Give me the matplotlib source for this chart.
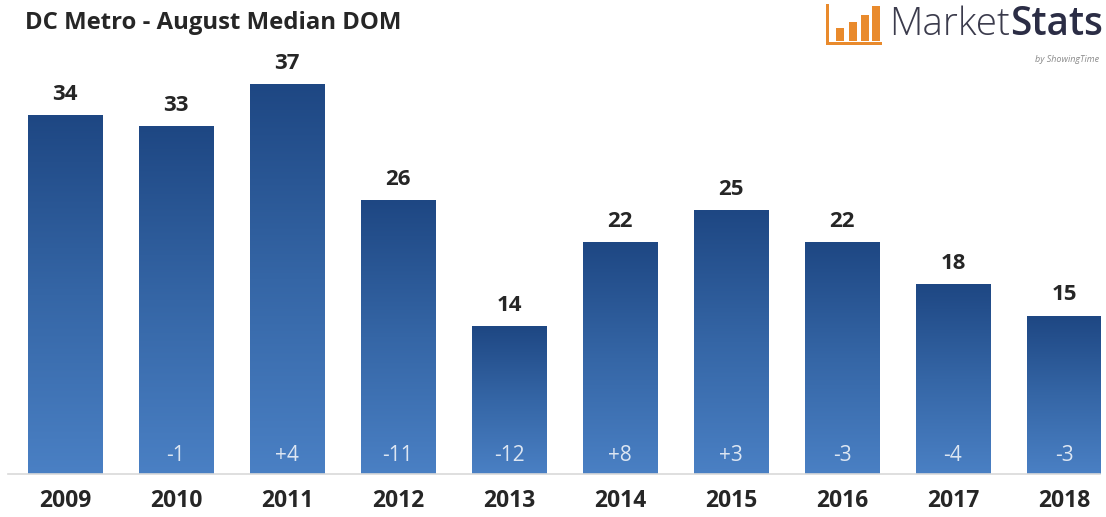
import numpy as np
import matplotlib.pyplot as plt
from matplotlib.colors import LinearSegmentedColormap
from matplotlib.patches import Rectangle

# Median days on market, August, DC Metro
years = ['2009', '2010', '2011', '2012', '2013', '2014', '2015', '2016', '2017', '2018']
dom = [34, 33, 37, 26, 14, 22, 25, 22, 18, 15]
changes = ['', '-1', '+4', '-11', '-12', '+8', '+3', '-3', '-4', '-3']

plt.rcParams['font.family'] = ['Open Sans', 'DejaVu Sans']

W, H = 1106, 517
fig = plt.figure(figsize=(W / 100, H / 100), dpi=100)
fig.patch.set_facecolor('white')

# axes placed in pixel terms: baseline at y=474, spanning x 8..1100
ax = fig.add_axes([8 / W, (H - 474) / H, (1100 - 8) / W, 474 / H])
xlim = ((8 - 65) / 111, (1100 - 65) / 111)
ylim = (0, 474 / 10.53)

x = np.arange(len(years))
bars = ax.bar(x, dom, width=0.67, color='none', zorder=2)

# vertical blue gradient inside each bar, darker at the top
cmap = LinearSegmentedColormap.from_list('bluegrad', ['#4a80c4', '#3566a6', '#1e4783'])
grad = np.linspace(0, 1, 256).reshape(-1, 1)
for b in bars:
    x0, y0 = b.get_x(), b.get_y()
    ax.imshow(grad, cmap=cmap, origin='lower', aspect='auto',
              extent=(x0, x0 + b.get_width(), y0, y0 + b.get_height()), zorder=1)
ax.set_xlim(*xlim)
ax.set_ylim(*ylim)

for xi, v, c in zip(x, dom, changes):
    ax.text(xi, v + 2.0, str(v), ha='center', va='center',
            fontsize=16, fontweight='bold', color='#262626')
    if c:
        ax.text(xi, 1.75, c, ha='center', va='center',
                fontsize=15, color='#dde6f2', zorder=3)

ax.set_xticks(x)
ax.set_xticklabels(years, fontsize=16.5, fontweight='bold', color='#262626')
ax.tick_params(axis='x', length=0, pad=11)
ax.set_yticks([])
for s in ['top', 'left', 'right']:
    ax.spines[s].set_visible(False)
ax.spines['bottom'].set_color('#d9d9d9')
ax.spines['bottom'].set_linewidth(1.2)

fig.text(25 / W, 1 - 23 / H, 'DC Metro - August Median DOM', ha='left', va='center',
         fontsize=17.2, fontweight='bold', color='#262626')

# MarketStats logo: small orange bar icon plus wordmark
orange = '#e98a2c'
def px_rect(x0, y0, w, h):
    fig.patches.append(Rectangle((x0 / W, 1 - (y0 + h) / H), w / W, h / H,
                                 transform=fig.transFigure, color=orange, lw=0))
px_rect(826, 4, 3, 41)
px_rect(826, 42, 56, 3)
for bx, top in [(836, 28), (849, 22), (861, 15), (872, 6)]:
    px_rect(bx, top, 8, 41 - top)

t1 = fig.text(889 / W, 1 - 25 / H, 'Market', ha='left', va='center',
              fontsize=27.8, fontweight='light', color='#3b3b4c')
fig.canvas.draw()
bb = t1.get_window_extent()
fig.text(bb.x1 / W, 1 - 25 / H, 'Stats', ha='left', va='center',
         fontsize=27.8, fontweight='semibold', color='#2b2d45')
fig.text(1099 / W, 1 - 60 / H, 'by ShowingTime', ha='right', va='center',
         fontsize=6.5, style='italic', color='#8a8a8a')

fig.savefig('out.png', dpi=100)
